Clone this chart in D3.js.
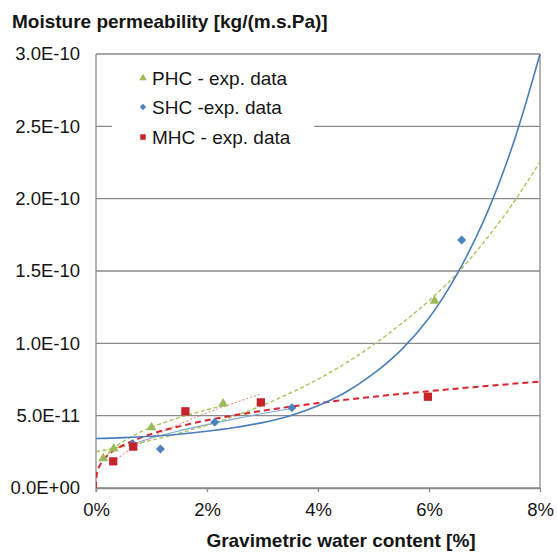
<!DOCTYPE html>
<html>
<head>
<meta charset="utf-8">
<script src="https://cdn.jsdelivr.net/npm/d3@7"></script>
<style>
  html, body { margin: 0; padding: 0; background: #fff; }
  svg { display: block; font-family: "Liberation Sans", Arial, sans-serif; }
</style>
</head>
<body>
<svg id="chart" width="557" height="552"></svg>
<script>
// ---------- data (x in %, y in units of 1e-11 kg/(m.s.Pa)) ----------
const xTickValues = [0, 2, 4, 6, 8];
const xTickLabels = ["0%", "2%", "4%", "6%", "8%"];
const yTickValues = [0, 5, 10, 15, 20, 25, 30];
const yTickLabels = ["0.0E+00", "5.0E-11", "1.0E-10", "1.5E-10", "2.0E-10", "2.5E-10", "3.0E-10"];

// experimental points
const phcX = [0.13, 0.32, 1.00, 2.29, 6.10];
const phcY = [2.05, 2.72, 4.19, 5.83, 12.94];
const shcX = [0.66, 1.16, 2.14, 3.53, 6.59];
const shcY = [3.06, 2.70, 4.54, 5.55, 17.14];
const mhcX = [0.31, 0.67, 1.61, 2.97, 5.98];
const mhcY = [1.84, 2.86, 5.30, 5.92, 6.31];

// trend lines
const phcFitX = [0, 0.5, 1, 1.5, 2, 2.5, 3, 3.5, 4, 4.5, 5, 5.5, 6, 6.5, 7, 7.5, 8];
const phcFitY = [2.51, 2.88, 3.30, 3.79, 4.34, 4.98, 5.72, 6.56, 7.52, 8.63, 9.90, 11.35, 12.95, 14.80, 17.05, 19.60, 22.55];
const phcShortX = [0.13, 0.2, 0.3, 0.5, 0.75, 1.0, 1.5, 2.0, 2.29];
const phcShortY = [1.97, 2.31, 2.68, 3.24, 3.77, 4.19, 4.87, 5.41, 5.69];
const shcFitX = [0, 0.5, 1, 1.5, 2, 2.5, 3, 3.5, 4, 4.5, 5, 5.5, 6, 6.5, 7, 7.5, 8];
const shcFitY = [3.42, 3.48, 3.58, 3.72, 3.92, 4.18, 4.52, 5.00, 5.68, 6.62, 7.90, 9.55, 11.75, 14.75, 18.60, 23.60, 30.0];
const shcShortX = [0.64, 1.0, 1.5, 2.0, 2.5, 3.0, 3.53];
const shcShortY = [3.00, 3.45, 3.95, 4.38, 4.78, 5.15, 5.49];
const mhcFitX = [0, 0.002, 0.01, 0.03, 0.06, 0.1, 0.2, 0.35, 0.5, 0.75, 1, 1.5, 2, 3, 4, 5, 6, 7, 8];
const mhcFitY = [0, 0.50, 0.84, 1.20, 1.50, 1.77, 2.22, 2.66, 2.98, 3.40, 3.74, 4.26, 4.68, 5.34, 5.87, 6.31, 6.69, 7.04, 7.35];
const mhcShortX = [0.31, 0.5, 0.75, 1.0, 1.5, 2.0, 2.5, 2.97];
const mhcShortY = [1.80, 2.36, 2.97, 3.50, 4.41, 5.19, 5.89, 6.50];

const legendLabels = ["PHC - exp. data", "SHC -exp. data", "MHC - exp. data"];

// ---------- drawing ----------
const svg = d3.select("#chart");
const W = 557, H = 552;
const m = { left: 96, right: 540, top: 54, bottom: 488 };

const x = d3.scaleLinear().domain([0, 8]).range([m.left, m.right]);
const y = d3.scaleLinear().domain([0, 30]).range([m.bottom, m.top]);

const gridColor = "#8a8a8a";
const textColor = "#151515";
const green = "#9BBB59", blue = "#4F81BD", red = "#C8232B";

svg.append("rect").attr("width", W).attr("height", H).attr("fill", "#fff");

// gridlines
svg.append("g").selectAll("line").data(yTickValues).join("line")
  .attr("x1", m.left).attr("x2", m.right)
  .attr("y1", d => y(d)).attr("y2", d => y(d))
  .attr("stroke", gridColor).attr("stroke-width", 1.3);

// right border
svg.append("line").attr("x1", m.right).attr("x2", m.right)
  .attr("y1", m.top).attr("y2", m.bottom)
  .attr("stroke", gridColor).attr("stroke-width", 1.3);

// x axis
const xAxis = d3.axisBottom(x).tickValues(xTickValues)
  .tickFormat((d, i) => xTickLabels[i]).tickSizeInner(4).tickSizeOuter(0).tickPadding(11);
const gx = svg.append("g").attr("transform", `translate(0,${m.bottom})`).call(xAxis);
gx.select(".domain").attr("stroke", gridColor).attr("stroke-width", 1.3);
gx.selectAll(".tick line").attr("stroke", gridColor).attr("stroke-width", 1.3);
gx.selectAll(".tick text").attr("fill", textColor).style("font-size", "18.5px")
  .style("font-family", "'Liberation Sans', Arial, sans-serif");

// y axis
const yAxis = d3.axisLeft(y).tickValues(yTickValues)
  .tickFormat((d, i) => yTickLabels[i]).tickSizeInner(0).tickSizeOuter(0).tickPadding(16);
const gy = svg.append("g").attr("transform", `translate(${m.left},0)`).call(yAxis);
gy.select(".domain").attr("stroke", gridColor).attr("stroke-width", 1.3)
  .attr("d", `M0,${m.top}V${m.bottom + 4}`);
gy.selectAll(".tick text").attr("fill", textColor).style("font-size", "18.5px")
  .style("font-family", "'Liberation Sans', Arial, sans-serif");

// clip
svg.append("clipPath").attr("id", "plotclip").append("rect")
  .attr("x", m.left).attr("y", m.top - 2).attr("width", m.right - m.left + 1).attr("height", m.bottom - m.top + 2);

const plot = svg.append("g").attr("clip-path", "url(#plotclip)");
const line = d3.line().x(d => x(d[0])).y(d => y(d[1])).curve(d3.curveMonotoneX);
const smooth = d3.line().x(d => x(d[0])).y(d => y(d[1])).curve(d3.curveCatmullRom.alpha(0.5));
const zip = (a, b) => a.map((v, i) => [v, b[i]]);

// trend lines
plot.append("path").datum(zip(shcShortX, shcShortY)).attr("d", line)
  .attr("fill", "none").attr("stroke", "#7FA7D6").attr("stroke-width", 1.1);
plot.append("path").datum(zip(mhcShortX, mhcShortY)).attr("d", line)
  .attr("fill", "none").attr("stroke", "#F08A8A").attr("stroke-width", 1.1).attr("stroke-dasharray", "2,2");
plot.append("path").datum(zip(phcShortX, phcShortY)).attr("d", line)
  .attr("fill", "none").attr("stroke", "#A9C35A").attr("stroke-width", 1.4).attr("stroke-dasharray", "4,2.5");
plot.append("path").datum(zip(phcFitX, phcFitY)).attr("d", smooth)
  .attr("fill", "none").attr("stroke", "#A9C35A").attr("stroke-width", 1.4).attr("stroke-dasharray", "4,2.5");
plot.append("path").datum(zip(mhcFitX, mhcFitY)).attr("d", line)
  .attr("fill", "none").attr("stroke", "#D8262E").attr("stroke-width", 2).attr("stroke-dasharray", "6,4");
plot.append("path").datum(zip(shcFitX, shcFitY)).attr("d", smooth)
  .attr("fill", "none").attr("stroke", "#4A7EBB").attr("stroke-width", 1.6);

// markers
const triPath = d3.symbol().type(d3.symbolTriangle).size(42)();
const diaPath = d3.symbol().type(d3.symbolSquare).size(40)();
const sqPath = d3.symbol().type(d3.symbolSquare).size(68)();

svg.append("g").selectAll("path").data(zip(shcX, shcY)).join("path")
  .attr("d", diaPath).attr("fill", blue)
  .attr("transform", d => `translate(${x(d[0])},${y(d[1])}) rotate(45)`);
svg.append("g").selectAll("path").data(zip(mhcX, mhcY)).join("path")
  .attr("d", sqPath).attr("fill", red)
  .attr("transform", d => `translate(${x(d[0])},${y(d[1])})`);
svg.append("g").selectAll("path").data(zip(phcX, phcY)).join("path")
  .attr("d", triPath).attr("fill", green)
  .attr("transform", d => `translate(${x(d[0])},${y(d[1])})`);

// legend
const lg = svg.append("g");
lg.append("rect").attr("x", 112).attr("y", 60).attr("width", 202).attr("height", 92).attr("fill", "#fff");
const legendSymbols = [
  { p: d3.symbol().type(d3.symbolTriangle).size(24)(), c: green, r: 0 },
  { p: d3.symbol().type(d3.symbolSquare).size(20)(), c: blue, r: 45 },
  { p: d3.symbol().type(d3.symbolSquare).size(30)(), c: red, r: 0 }
];
const legendRowY = [78, 107, 137];
legendLabels.forEach((t, i) => {
  lg.append("path").attr("d", legendSymbols[i].p).attr("fill", legendSymbols[i].c)
    .attr("transform", `translate(143,${legendRowY[i]}) rotate(${legendSymbols[i].r})`);
  lg.append("text").attr("x", 152).attr("y", legendRowY[i] + 6.8).text(t)
    .attr("fill", textColor).style("font-size", "19px");
});

// titles
svg.append("text").attr("x", 12).attr("y", 28).text("Moisture permeability [kg/(m.s.Pa)]")
  .attr("fill", textColor).style("font-size", "19px").style("font-weight", "bold");
svg.append("text").attr("x", 341).attr("y", 547).attr("text-anchor", "middle")
  .text("Gravimetric water content [%]")
  .attr("fill", textColor).style("font-size", "19px").style("font-weight", "bold");
</script>
</body>
</html>
